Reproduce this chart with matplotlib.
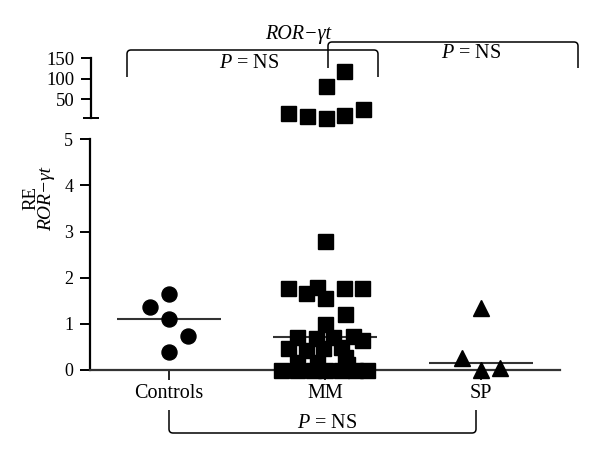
import matplotlib
matplotlib.use("Agg")
import matplotlib.pyplot as plt
from matplotlib.path import Path
from matplotlib.patches import PathPatch

# -----------------------------
# DATA
# -----------------------------
groups = ["Controls", "MM", "SP"]

controls_vals = [1.64, 1.37, 1.10, 0.74, 0.40]
controls_dx = [0.0, -0.12, 0.0, 0.12, 0.0]

# MM values below the axis break (0-5)
mm_vals = [2.80, 1.78, 1.66, 1.80, 1.57, 1.77, 1.78, 1.21, 1.00,
           0.71, 0.69, 0.71, 0.74, 0.66, 0.47, 0.43, 0.47, 0.50,
           0.29, 0.18, 0.18, 0.14,
           0.0, 0.0, 0.0, 0.0, 0.0, 0.0, 0.0]
mm_dx = [0.0, -0.24, -0.12, -0.05, 0.0, 0.12, 0.24, 0.13, 0.0,
         -0.18, -0.06, 0.05, 0.18, 0.24, -0.24, -0.12, -0.01, 0.10,
         0.13, -0.18, -0.05, 0.14,
         -0.28, -0.18, -0.08, 0.0, 0.10, 0.19, 0.27]

# MM values above the break (5-150)
mm_high_vals = [16, 10, 5, 12, 28, 82, 120]
mm_high_dx = [-0.24, -0.12, 0.0, 0.12, 0.24, 0.0, 0.12]

sp_vals = [1.34, 0.25, 0.0, 0.04]
sp_dx = [0.0, -0.12, 0.0, 0.12]

medians = [1.10, 0.71, 0.16]

# -----------------------------
# FIGURE
# -----------------------------
plt.rcParams["font.family"] = ["Liberation Serif", "DejaVu Serif"]
plt.rcParams["mathtext.fontset"] = "custom"
plt.rcParams["mathtext.rm"] = "Liberation Serif"
plt.rcParams["mathtext.it"] = "Liberation Serif:italic"

W, H = 600, 468
fig = plt.figure(figsize=(6, 4.68), dpi=100)


def fx(px):
    return px / W


def fy(py):
    return 1 - py / H


ink = "#000000"
line_col = "#333333"

# lower axis 0-5
ax = fig.add_axes([fx(90), fy(370), fx(560) - fx(90), fy(139.3) - fy(370)])
# upper axis 5-150
ax_top = fig.add_axes([fx(91), fy(118), fx(560) - fx(91), fy(58.3) - fy(118)])

xpos = list(range(len(groups)))

for a in (ax, ax_top):
    a.set_xlim(-0.506, 2.506)
    a.patch.set_alpha(0)
    for s in ("top", "right"):
        a.spines[s].set_visible(False)
    a.spines["left"].set_linewidth(1.6)
    a.spines["left"].set_color(ink)

ax.set_ylim(0, 5)
ax.spines["bottom"].set_linewidth(1.6)
ax.spines["bottom"].set_color(line_col)
ax.set_yticks([0, 1, 2, 3, 4, 5])
ax.set_xticks(xpos)
ax.set_xticklabels(groups, fontsize=14.5)
ax.tick_params(axis="y", length=7, width=1.4, pad=5, labelsize=13, colors=ink)
ax.tick_params(axis="x", length=7, width=1.2, pad=3, colors=ink)

ax_top.set_ylim(5, 150)
ax_top.spines["bottom"].set_visible(False)
ax_top.set_xticks([])
ax_top.set_yticks([50, 100, 150])
ax_top.set_yticks([5], minor=True)
ax_top.yaxis.remove_overlapping_locs = False
ax_top.tick_params(axis="y", which="major", length=7, width=1.4, pad=5,
                   labelsize=13.5, colors=ink)
ax_top.tick_params(axis="y", which="minor", direction="inout", length=12,
                   width=1.4, colors=ink)

# points
ms = 10.8
ax.plot([xpos[0] + d for d in controls_dx], controls_vals, "o", ms=ms,
        color=ink, clip_on=False, zorder=3)
ax.plot([xpos[1] + d for d in mm_dx], mm_vals, "s", ms=ms,
        color=ink, clip_on=False, zorder=3)
ax_top.plot([xpos[1] + d for d in mm_high_dx], mm_high_vals, "s", ms=ms,
            color=ink, clip_on=False, zorder=3)
ax.plot([xpos[2] + d for d in sp_dx], sp_vals, "^", ms=11.5,
        color=ink, clip_on=False, zorder=3)

# median lines
for x, m in zip(xpos, medians):
    ax.hlines(m, x - 0.333, x + 0.333, color=line_col, lw=1.5, zorder=2)


# -----------------------------
# BRACKETS AND ANNOTATIONS (pixel positions)
# -----------------------------
def bracket(x0, x1, ybar, yleg, r=4):
    sgn = 1 if yleg > ybar else -1
    verts = [(x0, yleg), (x0, ybar + sgn * r), (x0, ybar), (x0 + r, ybar),
             (x1 - r, ybar), (x1, ybar), (x1, ybar + sgn * r), (x1, yleg)]
    codes = [Path.MOVETO, Path.LINETO, Path.CURVE3, Path.CURVE3,
             Path.LINETO, Path.CURVE3, Path.CURVE3, Path.LINETO]
    verts = [(fx(a), fy(b)) for a, b in verts]
    patch = PathPatch(Path(verts, codes), fill=False, lw=1.1, edgecolor=ink,
                      transform=fig.transFigure)
    fig.add_artist(patch)


bracket(127, 378, 50, 77)
bracket(328, 578, 42, 68)
bracket(169, 476, 433, 410)

pns = "$P$ = NS"
fig.text(fx(298), fy(35), "ROR\u2212\u03b3t", style="italic", fontsize=14.5,
         ha="center", va="center", color=ink)
fig.text(fx(249), fy(63), pns, fontsize=14.5, ha="center",
         va="center", color=ink)
fig.text(fx(471), fy(53), pns, fontsize=14.5, ha="center",
         va="center", color=ink)
fig.text(fx(327), fy(423), pns, fontsize=14.5, ha="center",
         va="center", color=ink)

# y label on two lines
fig.text(fx(31), fy(198), "RE", rotation=90, fontsize=13.5, ha="center",
         va="center", color=ink)
fig.text(fx(47), fy(199), "ROR\u2212\u03b3t", rotation=90, style="italic",
         fontsize=14, ha="center", va="center", color=ink)

fig.savefig("out.png", dpi=100)
